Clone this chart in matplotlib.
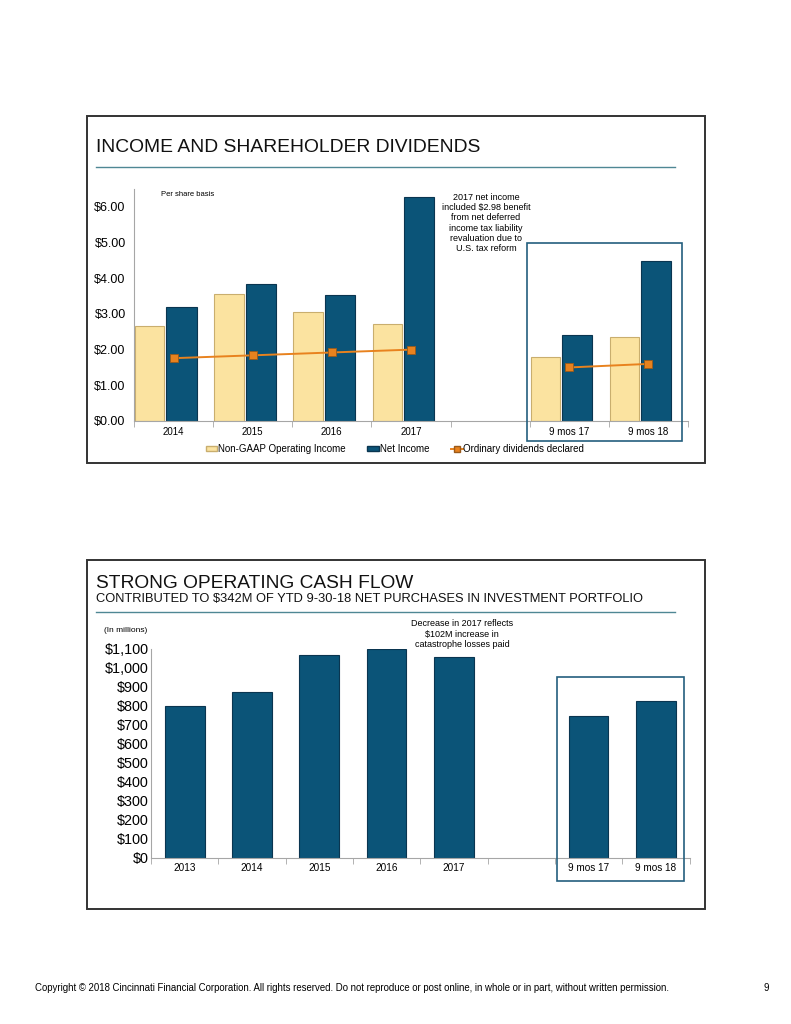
import numpy as np
import matplotlib.pyplot as plt
from matplotlib.patches import Rectangle, Patch
from matplotlib.lines import Line2D
from matplotlib.ticker import FuncFormatter

plt.rcParams['font.family'] = ['Liberation Sans', 'DejaVu Sans']

# Per share data (top chart)
top_cats = ['2014', '2015', '2016', '2017', '', '9 mos 17', '9 mos 18']
non_gaap = [2.66, 3.55, 3.06, 2.73, np.nan, 1.79, 2.35]
net_income = [3.18, 3.83, 3.54, 6.28, np.nan, 2.40, 4.49]
dividends = [1.76, 1.84, 1.92, 2.00, np.nan, 1.50, 1.60]

# Operating cash flow in millions (bottom chart)
cash_cats = ['2013', '2014', '2015', '2016', '2017', '', '9 mos 17', '9 mos 18']
cash_flow = [798, 874, 1067, 1100, 1055, np.nan, 747, 826]

W, H = 791, 1024
YELLOW = '#FBE3A0'
YELLOW_EDGE = '#C9AE6E'
BLUE = '#0B5478'
BLUE_EDGE = '#0A3550'
ORANGE = '#E8821E'
AXIS = '#A6A6A6'
FRAME = '#245F7E'


def fx(px):
    return px / W


def fy(py):
    return 1 - py / H


def fig_rect(fig, x0, y0, x1, y1, color, lw):
    fig.add_artist(Rectangle((fx(x0), fy(y1)), fx(x1) - fx(x0), fy(y0) - fy(y1),
                             transform=fig.transFigure, fill=False,
                             edgecolor=color, linewidth=lw))


def fig_line(fig, x0, x1, y, color='#4F8794', lw=1.0):
    fig.add_artist(Line2D([fx(x0), fx(x1)], [fy(y), fy(y)],
                          transform=fig.transFigure, color=color, linewidth=lw))


def style_axes(ax, ypad):
    for s in ['top', 'right']:
        ax.spines[s].set_visible(False)
    ax.spines['left'].set_color(AXIS)
    ax.spines['bottom'].set_color(AXIS)
    ax.tick_params(axis='y', length=0, pad=ypad)
    ax.tick_params(axis='x', which='both', length=0, pad=4)
    ax.tick_params(axis='x', which='minor', length=4, color=AXIS)


fig = plt.figure(figsize=(W / 100, H / 100), dpi=100)

# panel frames
fig_rect(fig, 86.7, 115.7, 705.3, 463.3, '#333333', 1.4)
fig_rect(fig, 86.7, 560, 705.3, 909, '#333333', 1.4)

# ---------- top chart ----------
fig.text(fx(96), fy(151.7), 'INCOME AND SHAREHOLDER DIVIDENDS', fontsize=13.9,
         va='baseline', ha='left', color='#111111')
fig_line(fig, 96, 675, 167.3)

ax1 = fig.add_axes([fx(134), fy(421), fx(688) - fx(134), (421 - 189) / H])
x = np.arange(len(top_cats))
ax1.bar(x - 0.30, non_gaap, width=0.37, color=YELLOW, edgecolor=YELLOW_EDGE,
        linewidth=0.8, label='Non-GAAP Operating Income')
ax1.bar(x + 0.10, net_income, width=0.38, color=BLUE, edgecolor=BLUE_EDGE,
        linewidth=0.8, label='Net Income')
ax1.plot(x, dividends, color=ORANGE, linewidth=1.4, marker='s', markersize=6,
         markerfacecolor=ORANGE, markeredgecolor='#9A5A1A', markeredgewidth=0.6,
         label='Ordinary dividends declared')
ax1.set_xlim(-0.5, len(top_cats) - 0.5)
ax1.set_ylim(0, 6.5)
ax1.set_yticks(np.arange(0, 7, 1))
ax1.yaxis.set_major_formatter(FuncFormatter(lambda v, p: f'${v:.2f}'))
ax1.set_xticks(x)
ax1.set_xticklabels(top_cats, fontsize=7)
ax1.set_xticks(np.arange(-0.5, len(top_cats), 1), minor=True)
style_axes(ax1, 6)
for t in ax1.get_yticklabels():
    t.set_fontsize(9)

fig.text(fx(188), fy(195), 'Per share basis', fontsize=5.5, ha='center', va='center')
fig.text(fx(486), fy(223), '2017 net income\nincluded $2.98 benefit\nfrom net deferred\n'
         'income tax liability\nrevaluation due to\nU.S. tax reform',
         fontsize=6.5, ha='center', va='center', linespacing=1.15)
fig_rect(fig, 527.3, 243.3, 682, 440.7, FRAME, 1.2)

handles = [Patch(facecolor=YELLOW, edgecolor=YELLOW_EDGE),
           Patch(facecolor=BLUE, edgecolor=BLUE_EDGE),
           Line2D([], [], color=ORANGE, marker='s', markersize=5,
                  markerfacecolor=ORANGE, markeredgecolor='#9A5A1A', linewidth=1.4)]
labels = ['Non-GAAP Operating Income', 'Net Income', 'Ordinary dividends declared']
fig.legend(handles, labels, loc='center', bbox_to_anchor=(fx(395), fy(449)),
           ncol=3, frameon=False, fontsize=7, handlelength=1.2, handleheight=0.5,
           handletextpad=0.1, columnspacing=2.2)

# ---------- bottom chart ----------
fig.text(fx(96), fy(588.3), 'STRONG OPERATING CASH FLOW', fontsize=13.8,
         va='baseline', ha='left', color='#111111')
fig.text(fx(96), fy(602.3),
         'CONTRIBUTED TO $342M OF YTD 9-30-18 NET PURCHASES IN INVESTMENT PORTFOLIO',
         fontsize=9.25, va='baseline', ha='left', color='#111111')
fig_line(fig, 96, 675, 612.3)

ax2 = fig.add_axes([fx(151), fy(857.7), fx(689.6) - fx(151), (857.7 - 648.7) / H])
x2 = np.arange(len(cash_cats))
ax2.bar(x2, cash_flow, width=0.59, color=BLUE, edgecolor=BLUE_EDGE, linewidth=0.8)
ax2.set_xlim(-0.5, len(cash_cats) - 0.5)
ax2.set_ylim(0, 1100)
ax2.set_yticks(np.arange(0, 1101, 100))
ax2.yaxis.set_major_formatter(FuncFormatter(lambda v, p: f'${v:,.0f}'))
ax2.set_xticks(x2)
ax2.set_xticklabels(cash_cats, fontsize=7.2)
ax2.set_xticks(np.arange(-0.5, len(cash_cats), 1), minor=True)
style_axes(ax2, 1.5)
for t in ax2.get_yticklabels():
    t.set_fontsize(10.4)

fig.text(fx(126), fy(631), '(In millions)', fontsize=6, ha='center', va='center')
fig.text(fx(462), fy(634), 'Decrease in 2017 reflects\n$102M increase in\ncatastrophe losses paid',
         fontsize=6.5, ha='center', va='center', linespacing=1.15)
fig_rect(fig, 556.7, 677.3, 683.7, 881, FRAME, 1.2)

# footer
fig.text(fx(35), fy(988), 'Copyright \u00a9 2018 Cincinnati Financial Corporation. All rights reserved. '
         'Do not reproduce or post online, in whole or in part, without written permission.',
         fontsize=6.9, ha='left', va='center')
fig.text(fx(763), fy(988), '9', fontsize=6.9, ha='left', va='center')

fig.savefig('out.png', dpi=100)
